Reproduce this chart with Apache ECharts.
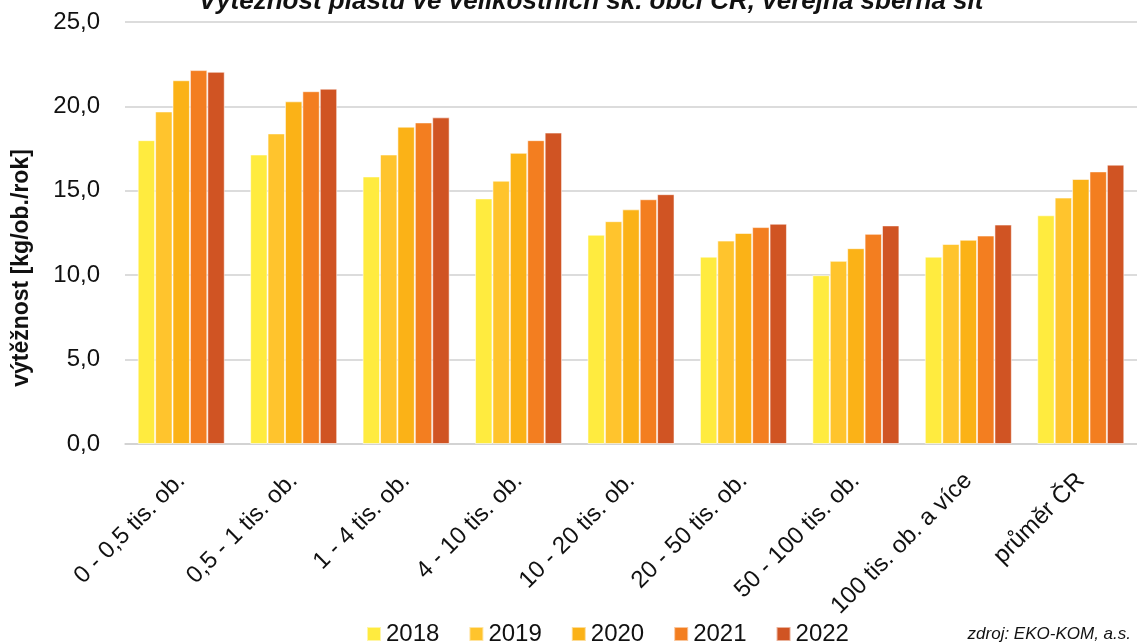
<!DOCTYPE html>
<html>
<head>
<meta charset="utf-8">
<script src="https://cdn.jsdelivr.net/npm/echarts@6/dist/echarts.min.js"></script>
<style>
html,body{margin:0;padding:0;background:#fff;}
#chart{width:1137px;height:643px;}
</style>
</head>
<body>
<div id="chart"></div>
<script>
var categories = ['0 - 0,5 tis. ob.', '0,5 - 1 tis. ob.', '1 - 4 tis. ob.', '4 - 10 tis. ob.', '10 - 20 tis. ob.', '20 - 50 tis. ob.', '50 - 100 tis. ob.', '100 tis. ob. a více', 'průměr ČR'];
var years = ['2018', '2019', '2020', '2021', '2022'];
var v2018 = [18.0, 17.15, 15.85, 14.55, 12.4, 11.1, 10.0, 11.1, 13.55];
var v2019 = [19.7, 18.4, 17.15, 15.6, 13.2, 12.05, 10.85, 11.85, 14.6];
var v2020 = [21.55, 20.3, 18.8, 17.25, 13.9, 12.5, 11.6, 12.1, 15.7];
var v2021 = [22.15, 20.9, 19.05, 18.0, 14.5, 12.85, 12.45, 12.35, 16.15];
var v2022 = [22.05, 21.05, 19.35, 18.45, 14.8, 13.05, 12.95, 13.0, 16.55];
var yTicks = [0, 5, 10, 15, 20, 25];
var titleText = 'Výtěžnost plastu ve velikostních sk. obcí ČR, veřejná sběrná síť';
var yName = 'výtěžnost [kg/ob./rok]';
var sourceText = 'zdroj: EKO-KOM, a.s.';

var seriesValues = [v2018, v2019, v2020, v2021, v2022];
var colors = ['#FFEB3F', '#FFC42D', '#FBB217', '#F37E20', '#D05423'];
var FONT = 'Liberation Sans';

var chart = echarts.init(document.getElementById('chart'), null, {renderer: 'canvas'});
var option = {
  animation: false,
  textStyle: {fontFamily: FONT},
  color: colors,
  grid: {left: 125, top: 22, width: 1024, height: 422, containLabel: false},
  legend: {
    data: years,
    top: 617,
    left: 361,
    itemWidth: 14,
    itemHeight: 14,
    itemGap: 29,
    icon: 'rect',
    textStyle: {fontSize: 24, color: '#111', fontFamily: FONT}
  },
  xAxis: {
    type: 'category',
    data: categories,
    axisLine: {lineStyle: {color: '#d0d0d0', width: 1.5}},
    axisTick: {show: false},
    axisLabel: {rotate: 45, interval: 0, margin: 33, fontSize: 24, color: '#111', fontFamily: FONT}
  },
  yAxis: {
    type: 'value',
    min: yTicks[0],
    max: yTicks[yTicks.length - 1],
    interval: 5,
    axisLine: {show: false},
    axisTick: {show: false},
    splitLine: {lineStyle: {color: '#d0d0d0', width: 1.5}},
    axisLabel: {
      margin: 25,
      fontSize: 24,
      color: '#111',
      fontFamily: FONT,
      formatter: function (v) { return v.toFixed(1).replace('.', ','); }
    }
  },
  series: years.map(function (y, i) {
    return {
      name: y,
      type: 'bar',
      data: seriesValues[i],
      barGap: '0%',
      barCategoryGap: '22.6%',
      itemStyle: {color: colors[i], borderColor: 'rgba(255,255,255,0.55)', borderWidth: 1}
    };
  }),
  graphic: [
    {
      type: 'text', x: 593, y: 2,
      style: {text: titleText, fontSize: 26, fontWeight: 'bold', fontStyle: 'italic', fontFamily: FONT, fill: '#111', textAlign: 'center', textVerticalAlign: 'middle'}
    },
    {
      type: 'text', x: 22, y: 268, rotation: Math.PI / 2,
      style: {text: yName, fontSize: 23, fontWeight: 'bold', fontFamily: FONT, fill: '#111', textAlign: 'center', textVerticalAlign: 'middle'}
    },
    {
      type: 'text', x: 1131, y: 634,
      style: {text: sourceText, fontSize: 17, fontStyle: 'italic', fontFamily: FONT, fill: '#111', textAlign: 'right', textVerticalAlign: 'middle'}
    }
  ]
};
chart.setOption(option);
</script>
</body>
</html>
